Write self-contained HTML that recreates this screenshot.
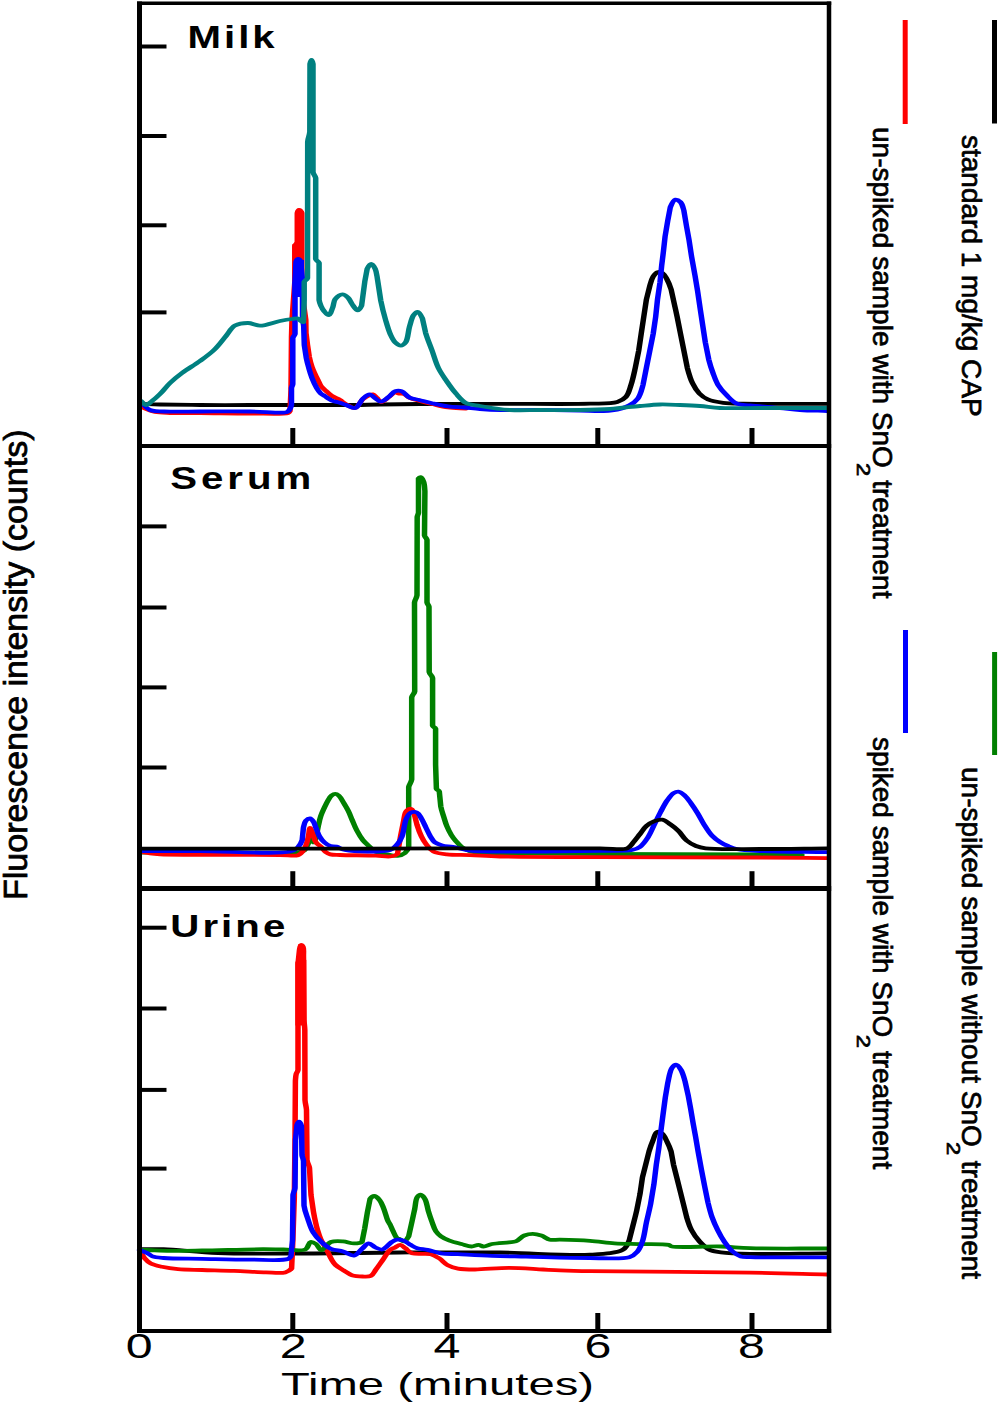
<!DOCTYPE html>
<html><head><meta charset="utf-8"><style>
html,body{margin:0;padding:0;background:#fff;}
svg{display:block;}
text{font-family:"Liberation Sans",sans-serif;fill:#000;}
</style></head><body>
<svg width="1000" height="1405" viewBox="0 0 1000 1405">
<rect width="1000" height="1405" fill="#fff"/>
<g fill="none" stroke-linejoin="round" stroke-linecap="round" transform="scale(1.45,1)">
<path d="M97.24,404.00C101.61,404.17 105.17,404.35 110.34,404.50C117.85,404.71 128.22,404.91 137.93,405.00C148.78,405.10 161.56,405.00 172.41,405.00C182.12,405.00 190.29,405.00 200.00,405.00C210.85,405.00 226.35,405.00 234.48,405.00C238.94,405.00 240.94,405.06 244.83,405.00C249.85,404.93 255.65,404.65 262.07,404.50C270.19,404.31 278.88,404.12 289.66,404.00C304.89,403.83 325.90,403.85 344.83,403.80C364.91,403.75 392.21,404.37 406.90,403.70C415.00,403.33 421.40,403.83 425.72,402.00C428.51,400.82 430.14,399.24 431.66,396.90C433.56,393.95 434.16,389.36 435.17,385.00C436.38,379.82 437.25,373.52 438.14,367.80L440.48,350.80L442.21,333.70L444.00,316.60L445.79,299.50L448.14,285.90C448.86,282.46 449.38,278.95 450.48,276.50C451.30,274.70 452.23,272.66 453.45,272.20C454.46,271.82 455.99,272.30 456.97,273.10C458.28,274.17 458.98,276.72 459.86,279.00C460.99,281.92 461.99,285.49 462.83,289.30L465.17,304.70C465.81,308.92 466.34,312.27 466.97,316.60L469.31,333.70L471.66,350.80L474.00,367.80C474.98,373.08 476.04,378.65 477.59,383.20C478.90,387.05 480.33,390.68 482.28,393.50C483.95,395.92 485.67,397.89 488.14,399.40C490.99,401.15 494.92,402.07 498.76,402.80C503.09,403.62 506.59,403.49 512.90,403.70C525.59,404.11 551.20,403.77 570.34,403.80" stroke="#000" stroke-width="3.8"/>
<polygon points="203.448,211 209.655,211 209.655,282 201.724,282 201.724,244 203.448,244" fill="#ff0000" stroke="none"/>
<path d="M97.24,406.00C98.39,407.00 99.30,408.08 100.69,409.00C102.40,410.13 104.50,411.33 106.90,412.00C109.84,412.83 113.20,412.80 117.24,413.00C122.95,413.28 130.16,412.94 137.93,413.00C147.97,413.07 161.71,413.52 172.41,413.50C181.75,413.48 195.42,414.72 198.62,413.00C199.59,412.48 199.64,412.10 200.00,411.00L200.69,390.00L201.03,337.00L201.38,320.00L203.31,282.00L203.31,246.00C203.74,243.93 204.62,244.01 205.03,242.00L205.03,213.00C205.33,211.44 205.71,210.05 206.21,210.00C206.73,209.95 207.61,211.22 208.14,213.00L208.14,282.00L208.97,300.00L210.90,320.00L211.03,333.00L212.07,345.00L213.31,357.00C213.82,360.50 214.45,363.98 215.17,367.00C215.79,369.56 216.53,371.76 217.24,374.00C217.91,376.08 218.62,378.00 219.31,380.00C220.00,382.00 220.44,384.15 221.38,386.00C222.29,387.81 223.59,389.36 224.83,391.00C226.11,392.70 227.38,394.51 228.97,396.00C230.59,397.52 232.86,398.59 234.48,400.00C235.95,401.27 236.80,402.76 238.34,404.00C240.15,405.46 242.94,408.45 244.83,408.00C247.05,407.47 248.41,401.29 250.34,399.00C251.81,397.26 253.58,395.71 254.90,395.00C255.71,394.56 256.39,394.17 257.10,394.40C258.12,394.73 259.07,396.75 260.00,398.00C260.96,399.28 261.59,401.86 262.76,402.00C264.21,402.17 266.60,398.66 268.28,397.00C269.79,395.50 271.05,392.82 272.41,392.50C273.39,392.27 274.30,393.35 275.31,393.60C276.36,393.86 277.54,393.49 278.62,394.00C280.04,394.68 281.08,396.88 282.76,398.00C284.67,399.28 287.24,400.04 289.66,401.00C292.27,402.04 294.96,402.99 297.93,404.00C301.33,405.16 305.13,406.75 308.97,407.50C312.94,408.28 317.24,408.17 321.38,408.50" stroke="#ff0000" stroke-width="3.8"/>
<polygon points="203.448,260 209.655,260 209.655,297 201.724,297 201.724,282 203.448,282" fill="#0000ff" stroke="none"/>
<path d="M97.24,402.00C99.31,404.67 100.52,408.35 103.45,410.00C106.87,411.93 112.17,411.32 117.24,411.60C123.43,411.94 130.16,411.52 137.93,411.50C147.97,411.48 161.94,411.28 172.41,411.50C181.18,411.68 192.95,413.25 196.55,412.50C197.66,412.27 198.01,412.17 198.62,411.50C199.67,410.34 200.54,407.73 201.03,405.00L201.03,388.00C201.23,386.19 201.70,386.08 201.93,384.00L201.93,338.00C202.32,335.89 203.06,336.14 203.45,334.00L203.45,282.00L204.14,262.00C204.49,260.51 204.96,259.08 205.52,259.00C206.01,258.93 206.78,259.87 207.24,261.00L208.62,280.00L208.62,318.00C208.81,321.66 209.25,322.76 209.45,326.00L209.86,345.00L211.24,358.00C211.74,361.56 212.31,364.67 212.97,368.00C213.62,371.34 214.27,374.69 215.17,378.00C216.08,381.36 217.27,385.23 218.41,388.00C219.27,390.08 220.05,391.87 221.10,393.30C221.98,394.50 223.08,395.24 224.07,396.20C225.04,397.14 225.96,398.17 226.97,399.00C227.92,399.79 228.83,400.53 229.93,401.10C231.11,401.71 232.53,401.92 233.86,402.50C235.33,403.13 236.70,403.98 238.34,404.80C240.33,405.79 243.08,408.58 244.97,408.00C247.28,407.28 248.55,400.80 250.48,398.40C251.90,396.64 253.54,394.38 254.90,394.40C256.09,394.42 257.01,396.48 258.21,397.60C259.56,398.87 261.06,401.58 262.62,401.60C264.35,401.62 266.47,398.55 268.14,396.80C269.78,395.08 270.86,392.02 272.55,391.20C273.88,390.55 275.55,390.55 276.97,391.20C278.92,392.09 280.34,396.12 282.48,397.60C284.44,398.95 286.74,399.14 289.10,400.00C291.83,400.99 294.81,402.18 297.93,403.20C301.39,404.33 305.25,405.68 308.97,406.40C312.61,407.10 316.33,407.07 320.00,407.50C323.68,407.93 327.14,408.60 331.03,409.00C335.37,409.45 339.44,409.80 344.83,410.00C352.44,410.28 363.22,409.92 372.41,410.00C381.61,410.08 392.38,410.29 400.00,410.50C405.39,410.65 409.78,411.05 413.79,411.00C416.90,410.96 419.12,411.20 422.07,410.50C425.75,409.63 430.91,407.66 434.00,405.40C436.57,403.52 438.35,401.47 439.86,398.60C441.75,395.01 442.49,389.83 443.45,385.00L445.79,367.80L448.14,350.80L450.48,333.70L452.21,316.60L453.45,299.50L455.17,282.50L456.34,265.40L457.52,251.70L458.69,236.40L460.48,221.00L462.28,207.30C463.14,204.29 464.35,199.97 465.79,199.60C466.83,199.33 468.39,200.87 469.31,202.20C470.61,204.09 471.02,207.42 471.66,210.70L473.45,226.10L475.17,239.80L476.97,256.80L479.31,275.60L481.10,291.00L482.83,308.10L484.62,325.20L486.41,342.20L488.76,359.30C489.61,364.14 490.60,368.61 491.72,373.00C492.78,377.13 493.65,381.16 495.24,384.90C496.80,388.55 498.90,392.02 501.10,395.20C503.24,398.27 505.35,402.02 508.21,403.70C510.81,405.23 513.60,404.83 517.24,405.40C522.72,406.26 531.73,407.16 537.93,408.00C543.00,408.69 546.77,409.51 551.72,410.00C557.45,410.57 564.14,410.67 570.34,411.00" stroke="#0000ff" stroke-width="3.8"/>
<path d="M97.24,401.00C98.39,402.33 99.46,404.94 100.69,405.00C101.98,405.06 103.40,402.57 104.83,401.00C106.60,399.04 108.48,396.65 110.34,394.00C112.60,390.80 114.71,386.50 117.24,383.00C119.77,379.50 122.37,376.40 125.52,373.00C129.14,369.08 134.13,364.99 137.93,361.00C141.43,357.33 144.66,354.04 147.59,350.00C150.67,345.74 153.30,340.32 155.86,336.00C158.08,332.27 159.29,327.75 162.07,325.60C164.51,323.72 168.11,322.97 171.03,323.00C173.85,323.03 176.21,325.63 179.31,325.60C183.33,325.56 189.07,322.16 193.10,321.00C196.19,320.11 199.08,319.41 201.38,319.00C202.99,318.71 204.46,318.08 205.52,318.50C206.45,318.87 206.87,320.40 207.59,321.00C208.15,321.47 208.86,322.25 209.31,322.00L209.79,300.00L209.79,282.00C210.30,280.10 211.43,280.42 212.07,278.00L212.21,142.00C212.59,136.73 213.30,136.84 213.66,132.00L213.79,64.00C214.07,61.83 214.48,60.00 214.83,60.00C215.17,60.00 215.57,61.73 215.86,64.00L215.86,172.00C216.36,175.30 217.24,174.80 217.72,178.00L217.72,259.00C218.35,261.32 219.49,260.87 220.07,263.00L220.07,300.00C220.38,302.88 220.79,304.12 221.38,306.00C221.93,307.77 222.55,309.46 223.45,311.00C224.34,312.53 225.82,315.36 226.76,315.20C227.94,315.00 228.78,309.89 229.52,307.20C230.24,304.56 229.97,301.38 231.17,299.20C232.28,297.19 234.56,294.46 236.14,294.40C237.48,294.35 238.95,296.19 240.00,297.60C241.24,299.26 241.68,301.90 242.76,304.00C243.88,306.17 245.45,310.41 246.62,310.40C247.63,310.39 248.64,307.92 249.38,305.60L251.59,281.60L253.24,268.80C253.94,266.73 255.08,264.00 256.00,264.00C256.92,264.00 258.06,266.78 258.76,268.80C259.76,271.68 259.87,275.69 260.41,280.00L262.62,300.80C263.53,307.34 264.74,314.07 265.93,320.00C266.97,325.16 267.95,330.35 269.24,334.40C270.23,337.50 271.11,340.45 272.55,342.40C273.65,343.88 275.20,345.65 276.41,345.60C277.58,345.56 278.83,344.08 279.72,342.40C281.40,339.24 281.47,331.24 282.48,326.40C283.34,322.32 283.95,317.71 285.24,315.20C286.02,313.68 287.11,311.90 288.00,312.00C289.16,312.14 290.45,315.75 291.31,318.40L293.52,332.80C294.65,338.40 296.46,344.53 297.93,350.40C299.40,356.27 300.54,362.67 302.34,368.00C303.93,372.68 305.86,376.57 307.86,380.80C309.90,385.10 312.09,389.75 314.48,393.60C316.63,397.07 318.48,400.93 321.38,403.00C324.08,404.92 327.18,405.03 331.03,406.00C336.60,407.40 344.80,409.34 351.72,410.00C358.59,410.66 365.02,410.00 372.41,410.00C380.95,410.00 391.47,410.21 400.00,410.00C407.39,409.82 413.81,409.66 420.69,409.00C427.60,408.33 435.17,406.79 441.38,406.00C446.44,405.36 450.57,404.67 455.17,404.50C459.76,404.33 464.37,404.75 468.97,405.00C473.57,405.25 478.17,405.50 482.76,406.00C487.37,406.50 491.15,407.61 496.55,408.00C504.15,408.55 513.76,408.00 524.14,408.00C537.56,408.00 554.94,408.00 570.34,408.00" stroke="#008080" stroke-width="3.8"/>
<path d="M97.24,852.50C110.80,852.50 122.59,852.56 137.93,852.50C157.90,852.43 199.28,853.61 206.90,852.00C208.49,851.66 208.84,851.65 209.66,850.80C211.07,849.34 212.07,844.82 212.97,842.40C213.64,840.59 214.07,837.60 214.62,837.60C215.17,837.60 215.71,842.39 216.28,842.40C216.82,842.41 217.46,839.87 217.93,838.00L219.59,825.60C220.11,822.19 220.52,819.07 221.24,816.00C221.92,813.09 222.87,810.28 223.72,807.60C224.52,805.10 225.30,802.53 226.21,800.40C226.97,798.61 227.71,796.74 228.69,795.60C229.43,794.74 230.34,793.80 231.17,793.80C232.00,793.80 232.88,794.66 233.66,795.60C234.90,797.12 235.90,800.29 236.97,802.80C238.11,805.48 239.31,808.38 240.28,811.20C241.23,813.98 241.86,816.63 242.76,819.60C243.78,822.98 244.80,826.94 246.07,830.40C247.29,833.73 248.68,837.24 250.21,840.00C251.48,842.31 252.86,844.03 254.34,846.00C255.88,848.03 257.34,850.66 259.31,852.00C261.11,853.22 263.26,853.39 265.52,854.00C268.14,854.71 271.69,856.28 274.14,855.90C276.15,855.59 278.03,854.34 279.31,852.90C280.64,851.41 281.26,849.91 281.86,847.00L281.86,809.50L281.86,787.10C282.30,783.90 283.40,783.50 283.93,779.60L283.93,697.40C284.47,694.18 285.46,694.65 286.00,691.40L285.86,602.40C286.31,598.67 287.14,598.98 287.59,595.30L287.72,517.00C287.97,514.66 288.40,514.83 288.62,512.70L288.62,478.50C289.01,477.58 289.61,477.01 290.07,477.10C290.78,477.23 291.58,479.62 292.07,481.40C292.78,483.99 292.83,486.88 293.03,491.40L292.76,535.50C293.19,537.75 294.03,537.46 294.48,539.80L294.48,602.40C294.85,604.72 295.50,604.37 295.86,606.70L296.00,672.00C296.60,675.16 297.77,674.97 298.34,678.00L298.34,725.80C298.89,727.54 299.89,727.12 300.41,728.80L300.41,764.70L300.97,788.60C301.47,790.19 302.46,790.13 302.97,791.60L304.00,806.50C304.51,810.32 305.35,813.64 306.07,817.00C306.74,820.12 307.28,823.02 308.14,826.00C309.00,829.02 310.10,832.34 311.24,835.00C312.20,837.24 313.17,839.04 314.34,841.00C315.57,843.04 316.84,845.26 318.48,847.00C320.11,848.72 322.04,850.40 324.14,851.40C326.22,852.39 327.94,852.63 331.03,853.00C337.14,853.73 347.85,853.17 358.62,853.30C373.86,853.48 392.25,853.81 413.79,854.00C444.26,854.26 499.22,854.23 524.14,854.50C536.91,854.64 543.45,854.83 553.10,855.00" stroke="#008000" stroke-width="3.8"/>
<path d="M97.24,852.00C99.31,852.50 101.31,853.12 103.45,853.50C105.67,853.90 107.42,854.10 110.34,854.30C115.39,854.65 122.29,854.68 131.03,854.80C146.18,855.01 180.32,854.88 193.10,855.00C198.82,855.06 202.69,856.60 205.52,855.20C207.63,854.15 208.56,851.95 209.66,849.60C211.12,846.46 211.85,841.40 212.55,837.60C213.17,834.24 213.18,828.06 213.79,828.00C214.24,827.95 214.88,830.91 215.45,832.80C216.24,835.44 216.71,839.95 217.93,842.40C218.82,844.20 220.18,845.08 221.24,846.60C222.40,848.26 223.30,850.65 224.55,852.00C225.56,853.09 226.48,853.88 227.86,854.40C229.62,855.06 231.57,854.83 234.48,855.00C240.12,855.32 252.96,855.23 259.31,855.60C263.28,855.83 266.30,856.98 268.97,856.50C271.02,856.13 272.90,855.74 274.14,854.00L276.21,836.40L278.28,821.50C278.90,817.69 278.94,813.08 280.28,811.00C281.07,809.76 282.53,808.61 283.38,808.80C284.28,809.00 284.86,810.85 285.45,812.50L287.52,824.50C288.38,828.49 289.45,832.92 290.62,836.40C291.57,839.22 292.40,841.47 293.72,843.90C295.13,846.48 296.55,849.65 298.90,851.40C301.32,853.20 304.59,853.76 308.14,854.40C312.70,855.22 318.46,854.78 324.14,855.10C330.59,855.46 335.91,856.15 344.83,856.50C361.09,857.13 388.12,857.03 413.79,857.20C446.27,857.41 495.24,857.24 524.14,857.50C542.84,857.67 554.94,857.97 570.34,858.20" stroke="#ff0000" stroke-width="3.8"/>
<path d="M97.24,851.00C110.80,851.00 122.94,850.94 137.93,851.00C156.44,851.07 190.70,854.65 200.00,851.50C203.12,850.44 204.13,849.04 205.52,847.20C206.98,845.26 207.78,842.76 208.41,840.00L209.24,828.00C209.65,825.28 209.88,822.45 210.90,820.80C211.62,819.62 212.92,818.28 213.79,818.40C214.73,818.53 215.61,820.58 216.28,822.00C217.06,823.69 217.31,825.84 217.93,828.00C218.66,830.57 219.36,833.89 220.41,836.40C221.34,838.62 222.39,840.75 223.72,842.40C224.92,843.88 226.38,845.32 227.86,846.00C229.16,846.60 230.55,846.10 232.00,846.60C233.86,847.24 235.03,849.23 237.93,850.00C244.10,851.64 263.23,852.63 268.97,850.00C271.87,848.67 272.76,846.24 274.14,844.00C275.54,841.72 276.35,839.53 277.24,836.40C278.57,831.75 278.84,822.80 280.28,818.50C281.15,815.88 281.94,813.38 283.38,812.50C284.51,811.81 286.39,811.81 287.52,812.50C288.96,813.38 289.66,816.26 290.62,818.50C291.76,821.16 292.69,824.51 293.72,827.50C294.76,830.48 295.69,833.76 296.83,836.40C297.79,838.63 298.49,840.88 299.93,842.40C301.28,843.82 303.12,844.66 305.03,845.40C307.18,846.23 309.58,846.20 312.28,846.90C315.76,847.80 319.08,849.76 324.14,850.60C332.57,852.00 345.78,851.41 358.62,851.50C374.86,851.61 399.54,851.15 413.79,850.80C422.81,850.58 431.06,851.38 435.86,850.00C438.44,849.26 439.73,848.45 441.38,846.80C443.55,844.62 445.30,840.71 446.90,837.20C448.66,833.32 449.84,828.67 451.31,824.40C452.78,820.13 454.21,815.71 455.72,811.60C457.15,807.73 458.51,803.66 460.14,800.40C461.50,797.67 462.96,794.64 464.55,793.20C465.60,792.25 466.74,791.44 467.86,791.60C469.30,791.81 470.93,793.90 472.28,795.60C473.94,797.70 475.27,800.78 476.69,803.60C478.22,806.63 479.68,809.86 481.10,813.20C482.63,816.77 483.88,820.70 485.52,824.40C487.18,828.17 488.98,832.49 491.03,835.60C492.73,838.16 494.60,840.21 496.55,842.00C498.30,843.61 500.09,844.82 502.07,846.00C504.12,847.23 505.94,848.40 508.69,849.20C512.69,850.36 517.60,850.54 524.14,851.00C535.41,851.80 554.94,851.80 570.34,852.20" stroke="#0000ff" stroke-width="3.8"/>
<path d="M97.24,848.70C133.79,848.70 170.29,848.75 206.90,848.70C243.62,848.65 281.69,848.45 317.24,848.40C350.50,848.35 394.10,848.40 413.79,848.40C422.47,848.40 428.71,850.42 432.55,848.40C435.02,847.10 435.55,844.29 436.97,842.00C438.50,839.52 439.91,836.67 441.38,834.00C442.85,831.33 444.01,828.20 445.79,826.00C447.39,824.03 449.35,822.27 451.31,821.20C453.05,820.25 455.09,819.22 456.83,819.60C458.79,820.03 460.57,822.61 462.34,824.40C464.26,826.32 466.13,828.36 467.86,830.80C469.84,833.60 471.19,837.78 473.38,840.40C475.31,842.72 477.67,844.65 480.00,846.00C482.10,847.22 483.44,847.82 486.62,848.40C493.96,849.75 510.98,848.99 524.14,849.00C538.74,849.01 554.94,848.53 570.34,848.30" stroke="#000" stroke-width="3.8"/>
<path d="M97.24,1249.20C102.44,1249.20 106.52,1248.88 112.83,1249.20C122.64,1249.70 136.62,1252.24 150.34,1253.00C166.95,1253.91 186.01,1253.55 205.52,1253.50C227.54,1253.44 252.53,1252.67 275.86,1252.50C298.96,1252.34 322.45,1252.10 344.83,1252.50C366.07,1252.88 391.38,1256.08 406.90,1254.70C416.37,1253.86 425.16,1253.31 429.52,1249.80C432.49,1247.41 432.89,1243.58 434.00,1240.00L436.28,1226.90C437.17,1221.74 438.25,1215.97 439.10,1210.50L441.38,1194.10L443.03,1177.70L445.31,1164.60L447.59,1151.50C448.42,1147.55 449.40,1143.57 450.41,1140.10C451.28,1137.12 451.76,1132.51 453.17,1131.90C454.11,1131.50 455.63,1132.47 456.62,1133.50C458.13,1135.07 458.99,1138.82 460.00,1141.70C461.08,1144.79 462.10,1147.97 462.83,1151.50L464.48,1164.60L466.76,1177.70L469.03,1190.80L471.31,1204.00L473.52,1217.00C474.45,1221.38 475.36,1225.95 476.90,1230.10C478.39,1234.14 480.35,1238.20 482.55,1241.60C484.56,1244.70 486.73,1248.02 489.38,1249.80C491.71,1251.37 493.97,1251.66 497.24,1252.30C502.34,1253.30 508.97,1253.62 517.24,1253.90C530.70,1254.36 552.64,1253.50 570.34,1253.30" stroke="#000" stroke-width="3.8"/>
<polygon points="205.793,944 209.172,944 209.172,957 211.241,960 211.241,1025.6 203.724,1025.6 203.724,962 205.793,958" fill="#ff0000" stroke="none"/>
<path d="M96.83,1251.60C97.75,1253.73 98.40,1256.01 99.59,1258.00C100.79,1260.01 102.09,1262.16 104.00,1263.60C106.06,1265.16 108.88,1265.91 111.72,1266.80C115.03,1267.84 118.68,1268.66 122.76,1269.20C127.69,1269.85 133.40,1269.75 139.31,1270.00C146.14,1270.29 154.03,1270.40 161.38,1270.80C168.74,1271.20 177.02,1272.17 183.45,1272.40C188.42,1272.58 193.60,1273.59 196.69,1272.40C198.76,1271.60 200.06,1270.65 201.10,1268.40L201.93,1242.00L202.97,1197.40L203.45,1140.60L203.72,1081.00C203.87,1077.52 203.89,1075.99 204.28,1074.00C204.57,1072.46 205.17,1072.28 205.52,1070.00L205.52,964.00L206.55,950.00C206.83,947.90 206.98,945.12 207.52,945.00C207.89,944.92 208.62,946.01 208.97,947.00C209.65,949.00 209.22,952.23 209.31,957.00L209.66,1020.00C209.80,1024.77 210.07,1025.16 210.21,1030.00L210.34,1100.00C210.60,1104.85 211.13,1105.38 211.38,1110.00L211.72,1160.00C212.15,1163.84 213.01,1164.52 213.45,1168.00L214.48,1195.00L216.21,1212.00C216.66,1215.78 217.10,1218.86 217.59,1222.00C218.02,1224.82 218.39,1227.24 218.97,1230.00C219.59,1232.99 220.26,1236.22 221.24,1239.30C222.25,1242.48 223.76,1245.52 224.97,1248.80C226.24,1252.27 227.44,1256.65 228.69,1259.60C229.60,1261.75 230.19,1263.29 231.45,1265.00C232.89,1266.95 235.19,1268.77 237.10,1270.50C238.94,1272.16 240.54,1274.20 242.69,1275.20C244.88,1276.22 247.83,1276.42 250.14,1276.50C252.13,1276.57 254.23,1276.90 255.72,1275.90C257.48,1274.73 258.16,1271.57 259.45,1269.10C260.95,1266.21 262.57,1262.76 264.14,1259.60C265.70,1256.46 267.10,1252.30 268.83,1250.20C269.97,1248.81 271.27,1248.31 272.48,1247.40C273.66,1246.51 274.86,1244.72 276.00,1244.80C277.21,1244.88 278.28,1246.93 279.52,1248.20C280.99,1249.71 281.97,1252.23 284.21,1253.30C287.26,1254.77 293.77,1253.00 297.10,1254.20C299.59,1255.10 301.11,1256.70 302.97,1258.40C305.04,1260.30 306.58,1263.48 308.83,1265.20C310.92,1266.81 313.14,1267.87 315.86,1268.60C319.20,1269.50 323.01,1269.49 327.59,1269.50C334.06,1269.51 343.22,1267.80 351.03,1267.80C358.85,1267.80 368.01,1269.04 374.48,1269.50C379.06,1269.82 381.75,1270.06 386.21,1270.30C392.13,1270.62 397.27,1270.84 406.90,1271.10C429.12,1271.69 487.11,1271.97 517.24,1272.70C538.15,1273.21 552.64,1273.90 570.34,1274.50" stroke="#ff0000" stroke-width="3.8"/>
<path d="M97.24,1250.00C98.39,1250.00 99.11,1249.96 100.69,1250.00C104.15,1250.08 111.33,1250.70 117.24,1250.80C124.07,1250.92 130.78,1250.69 139.31,1250.50C151.06,1250.24 170.94,1249.25 181.24,1249.20C187.25,1249.17 190.70,1249.45 195.52,1249.50C200.45,1249.55 207.40,1251.41 210.48,1249.50C212.79,1248.07 212.67,1242.49 214.21,1242.00C215.30,1241.65 216.82,1242.94 217.93,1244.00C219.39,1245.39 220.15,1250.10 221.66,1250.20C223.46,1250.32 225.53,1243.41 228.21,1242.00C230.60,1240.74 233.86,1241.15 236.55,1241.40C239.14,1241.64 241.75,1243.38 244.07,1243.40C246.07,1243.41 248.37,1243.44 249.66,1242.00L251.52,1228.50L253.38,1212.30L255.24,1198.80C255.97,1197.34 257.08,1195.97 258.07,1196.00C259.24,1196.03 260.78,1198.37 261.79,1200.10C263.06,1202.25 263.70,1205.20 264.55,1208.20C265.59,1211.83 266.46,1217.46 267.38,1220.40C267.92,1222.12 268.43,1222.88 268.97,1224.40C269.66,1226.36 270.33,1228.94 271.10,1231.20C271.89,1233.48 272.58,1236.70 273.66,1238.00C274.29,1238.77 275.07,1238.78 275.79,1239.30C276.63,1239.89 277.49,1241.52 278.34,1241.40C279.51,1241.24 280.95,1238.59 281.86,1236.30L284.21,1221.00C284.85,1216.78 285.41,1213.07 286.00,1209.10C286.59,1205.13 286.57,1199.60 287.72,1197.20C288.34,1195.92 289.28,1194.64 290.07,1194.70C291.04,1194.77 292.24,1197.03 293.03,1198.90C294.26,1201.77 294.57,1206.99 295.38,1210.80C296.13,1214.34 296.85,1217.61 297.72,1221.00C298.60,1224.41 299.33,1228.47 300.62,1231.20C301.60,1233.29 302.66,1234.78 304.14,1236.30C305.74,1237.95 307.80,1239.36 310.00,1240.60C312.43,1241.97 315.56,1242.98 318.21,1244.00C320.63,1244.93 323.13,1246.51 325.24,1246.50C326.96,1246.49 328.49,1244.73 329.93,1244.80C331.20,1244.87 332.12,1246.47 333.45,1246.50C335.15,1246.54 336.97,1244.66 339.31,1244.00C342.50,1243.10 348.01,1242.81 351.03,1242.30C352.95,1241.98 354.20,1242.21 355.72,1241.40C357.74,1240.33 359.46,1236.76 361.59,1235.50C363.41,1234.42 365.49,1233.80 367.45,1233.80C369.40,1233.80 371.43,1234.59 373.31,1235.50C375.35,1236.49 377.01,1239.00 379.17,1239.70C381.31,1240.39 383.25,1239.62 386.21,1239.70C391.29,1239.83 400.36,1240.15 406.90,1240.80C412.85,1241.40 418.20,1242.75 423.86,1243.30C429.49,1243.85 434.86,1243.84 440.76,1244.10C447.23,1244.38 457.77,1243.77 461.10,1244.90C462.33,1245.32 462.07,1246.09 463.38,1246.50C467.95,1247.95 487.44,1246.08 497.24,1246.50C504.79,1246.82 508.97,1247.83 517.24,1248.20C530.70,1248.81 552.64,1248.40 570.34,1248.50" stroke="#008000" stroke-width="3.8"/>
<path d="M96.28,1250.00C98.11,1251.07 100.25,1252.03 101.79,1253.20C103.11,1254.19 103.63,1255.62 105.10,1256.40C107.04,1257.42 109.46,1257.60 112.83,1258.00C119.00,1258.73 129.99,1258.55 139.31,1258.80C149.73,1259.08 162.02,1259.59 172.41,1259.60C181.66,1259.61 194.90,1261.01 198.62,1259.00C200.01,1258.25 200.17,1257.50 200.69,1256.00L201.72,1240.00L202.07,1195.00C202.41,1191.63 203.10,1191.40 203.45,1188.00L203.79,1140.00L204.83,1125.00C205.19,1123.42 205.73,1121.60 206.21,1121.60C206.75,1121.60 207.51,1123.83 207.93,1126.00L208.28,1155.00C208.53,1157.76 209.05,1158.06 209.31,1161.00L209.66,1205.50C210.25,1211.34 211.28,1214.51 212.34,1219.00C213.42,1223.54 214.36,1228.59 216.07,1232.60C217.57,1236.14 219.54,1239.23 221.66,1242.00C223.62,1244.58 225.67,1247.21 228.21,1248.80C230.66,1250.33 233.89,1250.36 236.55,1251.50C239.18,1252.63 241.90,1256.02 244.07,1255.60C246.27,1255.17 247.86,1250.92 249.66,1248.80C251.27,1246.88 252.73,1243.50 254.34,1243.40C255.84,1243.30 257.33,1246.46 258.97,1247.50C260.45,1248.44 262.09,1249.86 263.66,1249.50C265.84,1249.00 268.27,1243.70 270.21,1242.00C271.46,1240.90 272.36,1239.96 273.66,1239.70C275.05,1239.42 276.88,1239.87 278.34,1240.60C280.03,1241.44 281.44,1243.51 283.03,1244.80C284.57,1246.04 285.91,1247.36 287.72,1248.20C289.75,1249.14 292.27,1249.15 294.76,1249.90C297.68,1250.78 300.78,1252.58 304.14,1253.30C307.78,1254.08 311.28,1253.86 315.86,1254.20C322.34,1254.68 331.49,1255.48 339.31,1255.90C347.12,1256.32 353.72,1256.41 362.76,1256.70C375.16,1257.09 393.97,1258.00 406.90,1258.00C417.03,1258.00 428.58,1259.58 434.00,1257.20C436.96,1255.90 438.19,1253.78 439.66,1251.40C441.32,1248.71 442.09,1245.48 443.03,1241.60C444.33,1236.24 444.90,1228.39 445.86,1222.00C446.79,1215.87 447.85,1210.14 448.69,1204.00L450.97,1184.30L452.62,1164.60L454.34,1148.30L456.00,1128.60L457.17,1115.50L458.83,1097.50L460.55,1082.80C461.31,1077.86 461.91,1071.06 463.38,1068.00C464.17,1066.36 465.26,1064.65 466.21,1064.70C467.32,1064.76 468.65,1067.59 469.59,1069.70C470.90,1072.64 471.60,1077.03 472.41,1081.10L474.69,1095.90L476.34,1109.00L478.07,1123.70L479.72,1136.80L481.45,1151.50L483.72,1169.60L485.93,1185.90L488.21,1202.30C489.04,1207.35 489.87,1212.27 491.03,1217.00C492.14,1221.52 493.51,1225.91 494.97,1230.10C496.35,1234.09 497.77,1237.98 499.52,1241.60C501.19,1245.06 503.05,1248.81 505.17,1251.40C506.90,1253.52 508.72,1255.45 510.83,1256.40C512.78,1257.28 514.06,1257.00 517.24,1257.20C526.36,1257.78 552.64,1257.27 570.34,1257.30" stroke="#0000ff" stroke-width="3.8"/>
</g>
<g stroke-linecap="butt">
<line x1="139.5" y1="1.5" x2="139.5" y2="1333" stroke="#000" stroke-width="5"/>
<line x1="829" y1="1.5" x2="829" y2="1333" stroke="#000" stroke-width="4.5"/>
<line x1="137" y1="3.25" x2="831.2" y2="3.25" stroke="#000" stroke-width="3.6"/>
<line x1="137" y1="446.1" x2="831.2" y2="446.1" stroke="#000" stroke-width="4"/>
<line x1="137" y1="888.6" x2="831.2" y2="888.6" stroke="#000" stroke-width="5"/>
<line x1="137" y1="1331" x2="831.2" y2="1331" stroke="#000" stroke-width="4"/>
<line x1="141" y1="46.5" x2="166.5" y2="46.5" stroke="#000" stroke-width="4"/>
<line x1="141" y1="136" x2="166.5" y2="136" stroke="#000" stroke-width="4"/>
<line x1="141" y1="225.3" x2="166.5" y2="225.3" stroke="#000" stroke-width="4"/>
<line x1="141" y1="312.4" x2="166.5" y2="312.4" stroke="#000" stroke-width="4"/>
<line x1="141" y1="526.4" x2="166.5" y2="526.4" stroke="#000" stroke-width="4"/>
<line x1="141" y1="607.5" x2="166.5" y2="607.5" stroke="#000" stroke-width="4"/>
<line x1="141" y1="687.4" x2="166.5" y2="687.4" stroke="#000" stroke-width="4"/>
<line x1="141" y1="767.5" x2="166.5" y2="767.5" stroke="#000" stroke-width="4"/>
<line x1="141" y1="927.7" x2="166.5" y2="927.7" stroke="#000" stroke-width="4"/>
<line x1="141" y1="1008.5" x2="166.5" y2="1008.5" stroke="#000" stroke-width="4"/>
<line x1="141" y1="1089.9" x2="166.5" y2="1089.9" stroke="#000" stroke-width="4"/>
<line x1="141" y1="1168.6" x2="166.5" y2="1168.6" stroke="#000" stroke-width="4"/>
<line x1="292.8" y1="428" x2="292.8" y2="446" stroke="#000" stroke-width="5"/>
<line x1="447" y1="428" x2="447" y2="446" stroke="#000" stroke-width="5"/>
<line x1="597.8" y1="428" x2="597.8" y2="446" stroke="#000" stroke-width="5"/>
<line x1="752" y1="428" x2="752" y2="446" stroke="#000" stroke-width="5"/>
<line x1="292.8" y1="871.2" x2="292.8" y2="888" stroke="#000" stroke-width="5"/>
<line x1="447" y1="871.2" x2="447" y2="888" stroke="#000" stroke-width="5"/>
<line x1="597.8" y1="871.2" x2="597.8" y2="888" stroke="#000" stroke-width="5"/>
<line x1="752" y1="871.2" x2="752" y2="888" stroke="#000" stroke-width="5"/>
<line x1="292.8" y1="1313" x2="292.8" y2="1331" stroke="#000" stroke-width="5"/>
<line x1="447" y1="1313" x2="447" y2="1331" stroke="#000" stroke-width="5"/>
<line x1="597.8" y1="1313" x2="597.8" y2="1331" stroke="#000" stroke-width="5"/>
<line x1="752" y1="1313" x2="752" y2="1331" stroke="#000" stroke-width="5"/>
<line x1="994.5" y1="20" x2="994.5" y2="123.5" stroke="#000" stroke-width="5"/>
<line x1="905.2" y1="20" x2="905.2" y2="124" stroke="#ff0000" stroke-width="5"/>
<line x1="905.5" y1="630" x2="905.5" y2="733" stroke="#0000ff" stroke-width="5"/>
<line x1="994.6" y1="652" x2="994.6" y2="755" stroke="#008000" stroke-width="5"/>
</g>
<text transform="translate(187.5,47.5) scale(1.31,1)" font-size="30.7" font-weight="bold" letter-spacing="2.3" text-anchor="start">Milk</text>
<text transform="translate(170.2,489.2) scale(1.31,1)" font-size="30.7" font-weight="bold" letter-spacing="3.05" text-anchor="start">Serum</text>
<text transform="translate(170.3,936.5) scale(1.31,1)" font-size="30.7" font-weight="bold" letter-spacing="2.33" text-anchor="start">Urine</text>
<text transform="translate(139.2,1357.6) scale(1.38,1)" font-size="35" text-anchor="middle">0</text>
<text transform="translate(293.2,1357.6) scale(1.38,1)" font-size="35" text-anchor="middle">2</text>
<text transform="translate(446.8,1357.6) scale(1.38,1)" font-size="35" text-anchor="middle">4</text>
<text transform="translate(598,1357.6) scale(1.38,1)" font-size="35" text-anchor="middle">6</text>
<text transform="translate(751.4,1357.6) scale(1.38,1)" font-size="35" text-anchor="middle">8</text>
<text transform="translate(280.9,1395) scale(1.549,1)" font-size="30.5" text-anchor="start">Time (minutes)</text>
<text transform="translate(27.4,900) rotate(-90)" font-size="34" stroke="#000" stroke-width="0.8">Fluorescence intensity (counts)</text>
<text transform="translate(962,135) rotate(90) scale(1,1)" font-size="28" stroke="#000" stroke-width="0.7">standard 1 mg/kg CAP</text>
<text transform="translate(872.6,127) rotate(90) scale(1,1)" font-size="28" stroke="#000" stroke-width="0.7">un-spiked sample with SnO</text>
<text transform="translate(857.4,463) rotate(90) scale(1.35,1)" font-size="17.6" stroke="#000" stroke-width="0.7">2</text>
<text transform="translate(872.6,480.2) rotate(90) scale(1,1)" font-size="28" stroke="#000" stroke-width="0.7">treatment</text>
<text transform="translate(872.6,737) rotate(90) scale(1,1)" font-size="28" stroke="#000" stroke-width="0.7">spiked sample with SnO</text>
<text transform="translate(857.4,1034.7) rotate(90) scale(1.35,1)" font-size="17.6" stroke="#000" stroke-width="0.7">2</text>
<text transform="translate(872.6,1050.9) rotate(90) scale(1,1)" font-size="28" stroke="#000" stroke-width="0.7">treatment</text>
<text transform="translate(962.2,767) rotate(90) scale(1,1)" font-size="28" stroke="#000" stroke-width="0.7">un-spiked sample without SnO</text>
<text transform="translate(946.8,1141.9) rotate(90) scale(1.35,1)" font-size="17.6" stroke="#000" stroke-width="0.7">2</text>
<text transform="translate(962.2,1160.8) rotate(90) scale(1,1)" font-size="28" stroke="#000" stroke-width="0.7">treatment</text>
</svg>
</body></html>
